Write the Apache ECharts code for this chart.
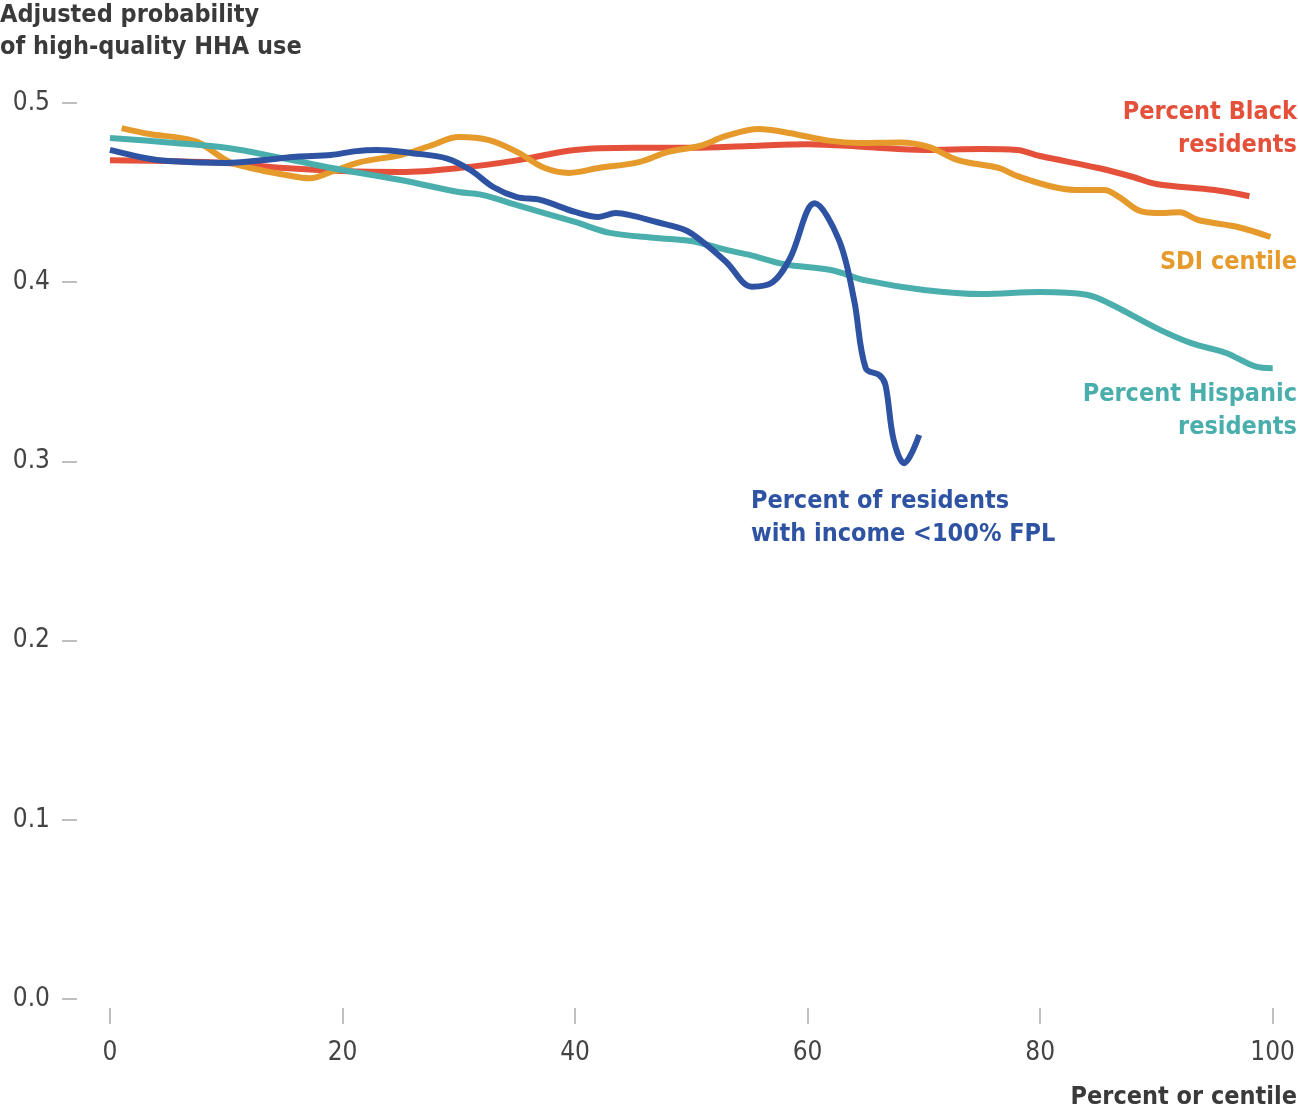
<!DOCTYPE html>
<html>
<head>
<meta charset="utf-8">
<script src="https://cdn.jsdelivr.net/npm/echarts@6/dist/echarts.min.js"></script>
<style>
html,body{margin:0;padding:0;background:#fff;}
#chart{width:1298px;height:1107px;}
</style>
</head>
<body>
<div id="chart"></div>
<script>
const xTicks = [0, 20, 40, 60, 80, 100];
const yTicks = [0.0, 0.1, 0.2, 0.3, 0.4, 0.5];

const black = [
  [0,0.468],[5,0.4676],[10,0.4665],[15,0.4637],[20,0.462],[25,0.4615],[30,0.4637],[35,0.468],
  [40,0.4738],[45,0.475],[50,0.475],[55,0.476],[60,0.477],[65,0.4755],[70,0.4738],[75,0.4743],
  [78,0.4738],[80,0.4704],[85,0.4637],[88,0.4587],[90,0.4548],[95,0.4514],[98,0.448]
];
const sdi = [
  [1,0.486],[3.4,0.4827],[6,0.4805],[7.7,0.4777],[10.3,0.467],[12.9,0.4626],[15,0.460],[17.2,0.458],
  [19,0.4615],[21.5,0.467],[25,0.471],[27.5,0.476],[30,0.481],[32.6,0.4793],[35,0.4727],[37.4,0.4637],
  [39.5,0.461],[42,0.4637],[45.5,0.467],[48,0.4727],[50.7,0.476],[53,0.4816],[55.8,0.4855],[58.4,0.4833],
  [61.8,0.479],[64.4,0.4777],[68,0.478],[70.4,0.4755],[73,0.468],[76.5,0.4637],[78,0.4593],[80.8,0.4537],
  [83,0.4515],[85.5,0.4515],[86.8,0.4475],[88.5,0.440],[90,0.4386],[92,0.439],[93.6,0.4347],[97,0.4308],[99.8,0.4252]
];
const hispanic = [
  [0,0.4805],[5,0.478],[10,0.475],[15,0.469],[20,0.4626],[25,0.457],[30,0.4503],[32,0.4487],[35,0.443],
  [40,0.4336],[43,0.4275],[47,0.4247],[50,0.423],[53,0.418],[55,0.4152],[58,0.410],[62,0.4068],[65,0.401],
  [70,0.3957],[75,0.3934],[80,0.3945],[84,0.393],[86,0.388],[90,0.3744],[93,0.366],[96,0.3605],[98.5,0.353],[100,0.352]
];
const poverty = [
  [0,0.4738],[3,0.4693],[5,0.4676],[10,0.4665],[13,0.468],[16,0.470],[19,0.471],[21,0.473],[23,0.4738],
  [26,0.472],[29,0.469],[31,0.4626],[33,0.453],[35,0.4475],[37,0.4459],[40,0.4392],[42,0.4364],[43.5,0.4386],
  [45,0.437],[47,0.4336],[49.5,0.429],[51,0.4224],[53,0.4113],[55.2,0.3975],[57,0.400],[58.5,0.4135],
  [60.6,0.444],[62.7,0.4235],[64,0.39],[65,0.352],[66.2,0.348],[66.7,0.3426],[67.4,0.312],[68.3,0.299],[69.6,0.3147]
];

// label lines: text, colour, anchor, vertical top
const labelLines = [
  ['Percent Black', '#e4503a', 'right', 100],
  ['residents', '#e4503a', 'right', 133],
  ['SDI centile', '#e59a2b', 'right', 250],
  ['Percent Hispanic', '#4aafac', 'right', 382],
  ['residents', '#4aafac', 'right', 415],
  ['Percent of residents', '#2e53a3', 'left', 489],
  ['with income <100% FPL', '#2e53a3', 'left', 522],
  ['Adjusted probability', '#3a3a3a', 'left0', 3],
  ['of high-quality HHA use', '#3a3a3a', 'left0', 35],
  ['Percent or centile', '#3a3a3a', 'right', 1085],
];

const FONT = '"DejaVu Sans Condensed", "DejaVu Sans", sans-serif';
const chart = echarts.init(document.getElementById('chart'));

function line(name, data, color) {
  return {
    name, type: 'line', data, smooth: 0.35, symbol: 'none',
    lineStyle: {color, width: 6, cap: 'butt'}, z: 2
  };
}

chart.setOption({
  animation: false,
  grid: {left: 110, right: 24, top: 103, bottom: 108, containLabel: false},
  xAxis: {
    type: 'value', min: 0, max: 100, interval: 20, offset: 9,
    axisLine: {show: false, onZero: false},
    axisTick: {show: true, length: 16, lineStyle: {color: '#aaa', width: 1.5}},
    axisLabel: {fontSize: 26, color: '#444', fontFamily: FONT, margin: 32, formatter: v => xTicks.includes(v) ? String(v) : ''},
    splitLine: {show: false}
  },
  yAxis: {
    type: 'value', min: 0, max: 0.5, interval: 0.1, offset: 33,
    axisLine: {show: false, onZero: false},
    axisTick: {show: true, length: 15, lineStyle: {color: '#aaa', width: 1.5}},
    axisLabel: {fontSize: 26, color: '#444', fontFamily: FONT, margin: 27, formatter: v => yTicks.some(t => Math.abs(t - v) < 1e-9) ? v.toFixed(1) : ''},
    splitLine: {show: false}
  },
  series: [
    line('Percent Black residents', black, '#e4503a'),
    line('SDI centile', sdi, '#e59a2b'),
    line('Percent Hispanic residents', hispanic, '#4aafac'),
    line('Percent of residents with income <100% FPL', poverty, '#2e53a3'),
  ],
  graphic: labelLines.map(([text, color, side, top]) => {
    const el = {type: 'text', top, style: {text, fontSize: 25, fontWeight: 'bold', fill: color, fontFamily: FONT}};
    if (side === 'right') el.right = 1;
    else if (side === 'left') el.left = 751;
    else el.left = 0;
    return el;
  })
});
</script>
</body>
</html>
